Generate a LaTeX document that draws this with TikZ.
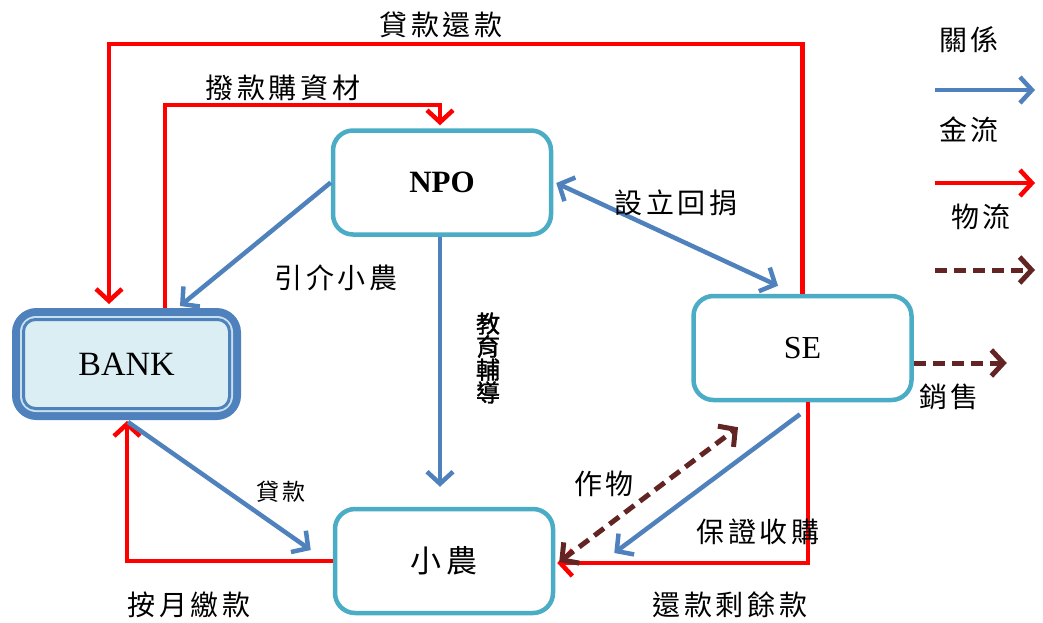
\documentclass[tikz,border=0pt]{standalone}
\usepackage{fontspec}
\setmainfont{Liberation Serif}
\newfontfamily\cjk[LetterSpace=14]{Noto Sans CJK TC}
\newfontfamily\cjkb[FakeBold=1.5]{Noto Sans CJK TC}
\usetikzlibrary{arrows.meta,calc}
\definecolor{cyanb}{HTML}{4BACC6}
\definecolor{blueb}{HTML}{4F81BD}
\definecolor{bankfill}{HTML}{DAEEF3}
\definecolor{banklight}{HTML}{C6E0EE}
\definecolor{brownd}{HTML}{632523}
\tikzset{
  barbtip/.tip={Straight Barb[length=12pt,width=26pt]},
  box/.style={draw=cyanb,line width=4.5pt,rounded corners=20pt,fill=white,minimum width=218pt,minimum height=104pt,inner sep=0pt,font=\fontsize{32}{36}\selectfont},
  rel/.style={draw=blueb,line width=4.5pt,-{barbtip}},
  relboth/.style={draw=blueb,line width=4.5pt,{barbtip}-{barbtip}},
  money/.style={draw=red,line width=4.5pt,-{barbtip},line join=miter},
  goods/.style={draw=brownd,line width=5pt,dash pattern=on 12pt off 7pt,-{barbtip}},
  goodsboth/.style={draw=brownd,line width=5pt,dash pattern=on 12pt off 7pt,{barbtip}-{barbtip}},
  lab/.style={font=\cjk\fontsize{28}{30}\selectfont,inner sep=0pt},
  slab/.style={font=\cjk\fontsize{23}{25}\selectfont,inner sep=0pt},
}
\begin{document}
\begin{tikzpicture}[x=1pt,y=-1pt]
\useasboundingbox (0,0) rectangle (1043,622);
% nodes
\node[box,font=\bfseries\fontsize{31}{36}\selectfont] (npo) at (442,182.5) {NPO};
\node[box] (se) at (802.5,348) {SE};
\node[box,font=\cjk\fontsize{31}{36}\selectfont] (farm) at (444,561) {小農};
\node[draw=blueb,line width=9pt,rounded corners=20pt,fill=bankfill,minimum width=220pt,minimum height=103pt,inner sep=0pt,font=\fontsize{34}{38}\selectfont] (bank) at (126.5,364) {BANK};
\draw[banklight,line width=2pt,rounded corners=15pt] ($(bank.north west)+(9,9)$) rectangle ($(bank.south east)+(-9,-9)$);
\draw[blueb,line width=3pt,rounded corners=12pt] ($(bank.north west)+(11.5,11.5)$) rectangle ($(bank.south east)+(-11.5,-11.5)$);
% red money flows
\draw[money] (se.north) |- (109,44) -- ($(bank.north)+(-17.5,-4)$);
\draw[money] ($(bank.north)+(38.5,0)$) |- (440,105) -- ($(npo.north)+(-2,-3)$);
\draw[money] (farm.west) -| ($(bank.south)+(0.5,1)$);
\draw[money] ($(se.south)+(5.5,0)$) |- ($(farm.east)+(2,2)$);
% blue relations
\draw[rel] (npo.west) -- ($(bank.north)+(53.5,-2)$);
\draw[rel] ($(npo.south)+(-2,0)$) -- ($(farm.north)+(-4,-20)$);
\draw[relboth] ($(npo.east)+(3,0.5)$) -- ($(se.north)+(-24.5,-8)$);
\draw[rel] ($(bank.south)+(1.5,2)$) -- ($(farm.west)+(-22,-11)$);
\draw[rel] ($(se.south)+(-2.5,12)$) -- ($(farm.east)+(59,-8)$);
% goods
\draw[goodsboth] ($(farm.east)+(4,1)$) -- ($(se.south)+(-64.5,25)$);
\draw[goods] ($(se.east)+(0,15)$) -- ($(se.east)+(93,15)$);
% labels
\node[lab] (l1) at (441,25) {貸款還款};
\node[lab] (l2) at (283,88) {撥款購資材};
\node[lab] (l3) at (336,278) {引介小農};
\node[font=\cjkb\fontsize{24}{25}\selectfont,inner sep=0pt,align=center] (l4) at (488,358) {教\\[-2pt]育\\[-2pt]輔\\[-2pt]導};
\node[lab] (l5) at (676,203) {設立回捐};
\node[slab] (l6) at (281,492) {貸款};
\node[lab] (l7) at (604,484) {作物};
\node[lab] (l8) at (758,532) {保證收購};
\node[lab] (l9) at (189,605) {按月繳款};
\node[lab] (l10) at (730,605) {還款剩餘款};
\node[lab] (l11) at (949,397) {銷售};
% legend
\node[lab] (k1) at (969,40) {關係};
\node[lab] (k2) at (969,130) {金流};
\node[lab] (k3) at (981,217) {物流};
\coordinate (a1) at (935,90); \coordinate (b1) at (1035,90);
\coordinate (a2) at (935,183); \coordinate (b2) at (1035,183);
\coordinate (a3) at (935,270); \coordinate (b3) at (1035,270);
\draw[rel] (a1) -- (b1);
\draw[money] (a2) -- (b2);
\draw[goods] (a3) -- (b3);
\end{tikzpicture}
\end{document}
